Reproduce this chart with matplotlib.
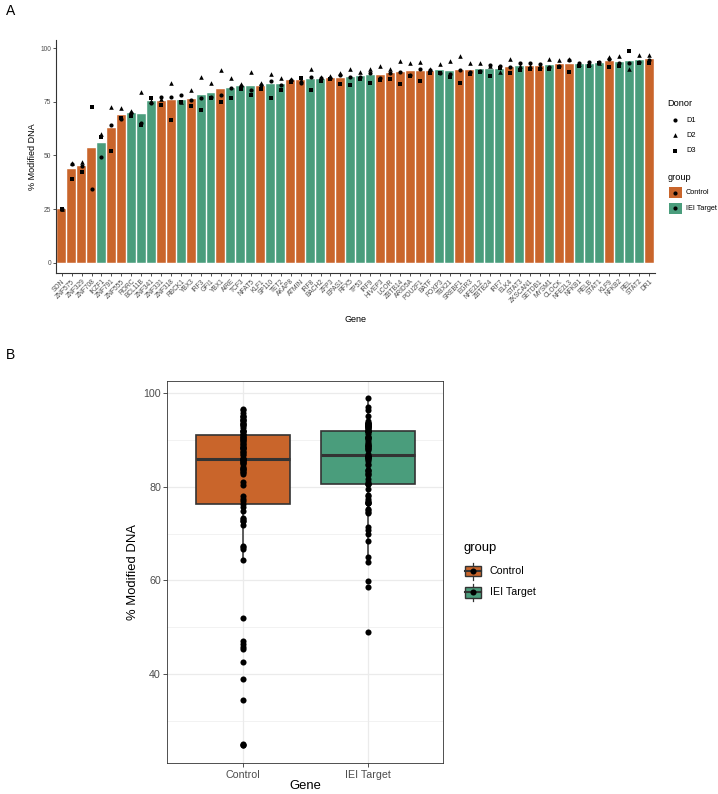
import numpy as np
import matplotlib
matplotlib.use("Agg")
import matplotlib.pyplot as plt
from matplotlib.patches import Rectangle
from matplotlib.lines import Line2D

plt.rcParams['font.family'] = ['Liberation Sans', 'DejaVu Sans']

# ---------------- data ----------------
genes = ["SON", "ZNF575", "ZNF329", "ZNF708", "IKZF1", "ZNF791", "ZNF555", "RORC", "BCL11B", "ZNF341",
         "ZNF331", "ZNF318", "RBCK1", "YBX3", "IRF3", "GFI1", "YBX1", "AIRE", "TCF3", "NFAT5",
         "KLF1", "SP110", "TET2", "AKAP8", "ATMIN", "IRF8", "BACH2", "ZFP3", "EPAS1", "RFX5",
         "TP53", "IRF9", "HIVEP3", "LCOR", "ZBTB14", "ARID5A", "POU2F1", "BATF", "FOXP3", "TBX21",
         "SREBF1", "EGR3", "NFE2L2", "ZBTB24", "IRF7", "ELK4", "STAT3", "ZKSCAN1", "SETDB1", "MYSM1",
         "CLOCK", "NFE2L3", "NFKB1", "RELB", "STAT1", "KLF9", "NFKB2", "REL", "STAT2", "DR1"]

C, I = "Control", "IEI Target"
groups = [C, C, C, C, I, C, C, I, I, I,
          C, C, I, C, I, I, C, I, I, I,
          C, I, I, C, C, I, I, C, C, I,
          I, I, C, C, C, C, C, C, I, I,
          C, C, I, I, I, C, I, C, C, I,
          C, C, I, I, I, C, I, I, I, C]

donor1 = [25.2, 45.8, 45.3, 34.4, 49.1, 64.3, 67.1, 69.8, 65.1, 74.3,
          77.0, 77.4, 78.3, 75.7, 76.6, 77.4, 78.1, 81.6, 82.5, 80.5,
          82.6, 84.8, 82.8, 85.0, 83.7, 86.4, 85.9, 86.2, 87.4, 86.4,
          86.4, 88.2, 86.0, 88.5, 89.0, 87.3, 90.1, 89.9, 88.2, 88.1,
          89.8, 89.0, 89.3, 92.2, 91.8, 91.0, 92.9, 92.9, 92.6, 91.2,
          91.8, 94.3, 93.2, 93.5, 93.6, 95.0, 93.3, 92.9, 93.5, 94.3]
donor2 = [25.0, 46.5, 47.0, np.nan, 59.8, 72.6, 71.9, 70.7, 79.4, 75.3,
          76.2, 83.7, 75.0, 80.3, 86.5, 83.6, 89.6, 86.2, 83.3, 88.7,
          83.6, 87.9, 86.0, 85.6, 85.3, 90.2, 86.5, 86.8, 88.2, 90.4,
          89.0, 90.5, 91.8, 90.5, 94.1, 93.2, 93.6, 90.5, 92.6, 94.1,
          96.3, 93.3, 92.9, 91.8, 88.8, 95.0, 91.9, 91.8, 91.8, 95.0,
          94.4, 94.9, 92.6, 92.7, 93.3, 95.8, 96.3, 90.4, 96.9, 96.6]
donor3 = [24.8, 38.9, 42.5, 72.7, 58.6, 51.9, 67.4, 68.5, 64.0, 76.9,
          73.4, 66.7, 74.7, 73.2, 71.3, 76.6, 74.9, 76.6, 81.1, 78.0,
          80.9, 76.7, 80.6, 84.2, 86.0, 80.6, 84.7, 85.6, 83.1, 82.9,
          85.4, 83.6, 85.3, 85.6, 83.1, 87.0, 84.8, 88.2, 88.6, 86.5,
          83.9, 87.8, 88.7, 87.0, 90.6, 88.2, 89.8, 90.2, 90.5, 90.5,
          91.2, 88.7, 91.8, 91.8, 92.9, 91.3, 91.6, 98.9, 93.2, 93.3]

group_names = ["Control", "IEI Target"]
donor_names = ["D1", "D2", "D3"]
yticks_a = [0, 25, 50, 75, 100]
yticks_b = [40, 60, 80, 100]

# ---------------- styles ----------------
group_colors = {"Control": "#C9652B", "IEI Target": "#4A9D7C"}
donor_markers = ["o", "^", "s"]
donor_ms = [3.0, 3.3, 2.8]
TXT = "#4D4D4D"
DARK = "#333333"

W, H = 718, 794
fig = plt.figure(figsize=(W / 100, H / 100), dpi=100)


def fx(x):
    return x / W


def fy(y):
    return 1 - y / H


# ---------------- panel A ----------------
axA = fig.add_axes([fx(55.7), fy(273.3), (655 - 55.7) / W, (273.3 - 39.9) / H])
d = np.array([donor1, donor2, donor3], dtype=float)
means = np.nanmean(d, axis=0)
xpos = np.arange(len(genes))
axA.bar(xpos, means, width=0.9, color=[group_colors[g] for g in groups],
        edgecolor='white', linewidth=0.3, zorder=1)
for k in range(3):
    axA.plot(xpos, d[k], linestyle='none', marker=donor_markers[k], ms=donor_ms[k],
             color='black', markeredgewidth=0, zorder=3)
axA.set_xlim(-0.6, len(genes) - 0.4)
axA.set_ylim(-4.95, 103.85)
axA.set_yticks(yticks_a)
axA.set_yticklabels([str(v) for v in yticks_a], fontsize=4.8, color=TXT)
axA.set_xticks(xpos)
axA.set_xticklabels(genes, rotation=45, ha='right', va='top', rotation_mode='anchor',
                    fontsize=4.8, color=TXT)
for s in ['top', 'right']:
    axA.spines[s].set_visible(False)
for s in ['left', 'bottom']:
    axA.spines[s].set_color(DARK)
    axA.spines[s].set_linewidth(0.8)
axA.tick_params(axis='both', length=2.2, width=0.6, color=DARK, pad=1.2)

fig.text(fx(32.5), fy(156.6), "% Modified DNA", rotation=90, ha='center', va='center', fontsize=6.5)
fig.text(fx(355.3), fy(319), "Gene", ha='center', va='center', fontsize=6.5)

# legend A (Donor)
fig.text(fx(667.3), fy(104), "Donor", ha='left', va='center', fontsize=6.6)
for k, name in enumerate(donor_names):
    yc = 120 + 15.3 * k
    fig.add_artist(Line2D([fx(675)], [fy(yc)], marker=donor_markers[k], ms=donor_ms[k],
                          color='black', markeredgewidth=0, linestyle='none'))
    fig.text(fx(686), fy(yc), name, ha='left', va='center', fontsize=5.3)
# legend A (group)
fig.text(fx(667.3), fy(178), "group", ha='left', va='center', fontsize=6.6)
for k, g in enumerate(group_names):
    yc = 192.5 + 15.8 * k
    fig.add_artist(Rectangle((fx(668.5), fy(yc + 5.3)), 13 / W, 10.6 / H,
                             facecolor=group_colors[g], edgecolor='none'))
    fig.add_artist(Line2D([fx(675)], [fy(yc)], marker='o', ms=3.0, color='black',
                          markeredgewidth=0, linestyle='none'))
    fig.text(fx(686), fy(yc), g, ha='left', va='center', fontsize=5.3)

# ---------------- panel B ----------------
axB = fig.add_axes([fx(167.3), fy(763.3), 276 / W, 382.6 / H])
vals = []
for g in group_names:
    idx = [i for i in range(len(genes)) if groups[i] == g]
    v = d[:, idx].ravel()
    vals.append(v[~np.isnan(v)])

bp = axB.boxplot(vals, positions=[1, 2], widths=0.75, patch_artist=True,
                 showfliers=False, showcaps=False, whis=1.5,
                 medianprops=dict(color=DARK, linewidth=2.2),
                 boxprops=dict(edgecolor=DARK, linewidth=1.2),
                 whiskerprops=dict(color=DARK, linewidth=1.1), zorder=2)
for patch, g in zip(bp['boxes'], group_names):
    patch.set_facecolor(group_colors[g])
for i, v in enumerate(vals):
    axB.plot(np.full(len(v), i + 1), v, linestyle='none', marker='o', ms=4.4,
             color='black', markeredgewidth=0, zorder=4)

axB.set_xlim(0.4, 2.6)
axB.set_ylim(21.0, 102.6)
axB.set_yticks(yticks_b)
axB.set_yticks([30, 50, 70, 90], minor=True)
axB.set_yticklabels([str(v) for v in yticks_b], fontsize=7.7, color=TXT)
axB.set_xticks([1, 2])
axB.set_xticklabels(group_names, fontsize=7.7, color=TXT)
axB.grid(which='major', color='#EBEBEB', linewidth=0.9, zorder=0)
axB.grid(which='minor', axis='y', color='#EBEBEB', linewidth=0.45, zorder=0)
axB.set_axisbelow(True)
for s in axB.spines.values():
    s.set_color(DARK)
    s.set_linewidth(0.6)
axB.tick_params(axis='both', which='major', length=2.6, width=0.6, color=DARK, pad=2.0)
axB.tick_params(axis='both', which='minor', length=0)

fig.text(fx(132.5), fy(572), "% Modified DNA", rotation=90, ha='center', va='center', fontsize=9.4)
fig.text(fx(305.3), fy(786), "Gene", ha='center', va='center', fontsize=9.4)

# legend B
fig.text(fx(463.3), fy(548), "group", ha='left', va='center', fontsize=9.4)
for k, g in enumerate(group_names):
    yc = 571 + 21.3 * k
    xc = 473.3
    fig.add_artist(Rectangle((fx(xc - 8), fy(yc + 5.3)), 16 / W, 10.6 / H,
                             facecolor=group_colors[g], edgecolor=DARK, linewidth=1.0))
    fig.add_artist(Line2D([fx(xc), fx(xc)], [fy(yc - 5.3), fy(yc - 8.5)], color=DARK, linewidth=0.9))
    fig.add_artist(Line2D([fx(xc), fx(xc)], [fy(yc + 5.3), fy(yc + 8.5)], color=DARK, linewidth=0.9))
    fig.add_artist(Line2D([fx(xc - 8), fx(xc + 8)], [fy(yc), fy(yc)], color=DARK, linewidth=1.5))
    fig.add_artist(Line2D([fx(xc)], [fy(yc)], marker='o', ms=4.4, color='black',
                          markeredgewidth=0, linestyle='none'))
    fig.text(fx(490), fy(yc), g, ha='left', va='center', fontsize=7.7)

# panel labels
fig.text(fx(6), fy(11), "A", ha='left', va='center', fontsize=10)
fig.text(fx(6), fy(355), "B", ha='left', va='center', fontsize=10)

fig.savefig("out.png", dpi=100)
